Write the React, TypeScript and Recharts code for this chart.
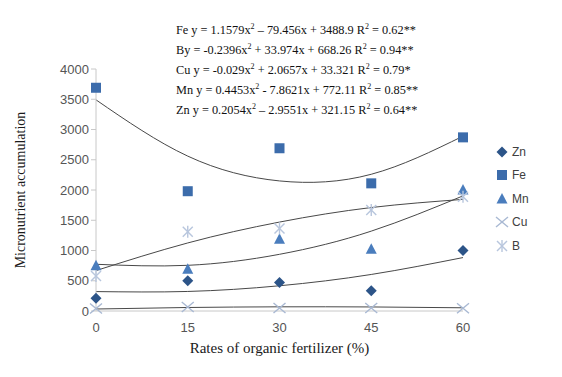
import { ComposedChart, Line, XAxis, YAxis } from "recharts";

// fertilizer rate (%) on the x axis
const rates = [0, 15, 30, 45, 60];
const yTicks = [0, 500, 1000, 1500, 2000, 2500, 3000, 3500, 4000];

// measured points
const zn = [210, 500, 470, 335, 1000];
const fe = [3690, 1980, 2690, 2110, 2870];
const mn = [750, 690, 1185, 1020, 2000];
const cu = [40, 65, 50, 50, 45];
const b = [580, 1310, 1365, 1670, 1890];

// polynomial trend lines, read at each rate
const feFit = [3490, 2560, 2150, 2260, 2890];
const bFit = [668, 1125, 1470, 1710, 1845];
const mnFit = [772, 755, 937, 1320, 1903];
const znFit = [321, 323, 417, 604, 883];
const cuFit = [33, 58, 69, 67, 53];

const equations = [
  ["Fe y = 1.1579x", " – 79.456x + 3488.9 R", " = 0.62**"],
  ["By = -0.2396x", " + 33.974x + 668.26 R", " = 0.94**"],
  ["Cu y = -0.029x", " + 2.0657x + 33.321 R", " = 0.79*"],
  ["Mn y = 0.4453x", " - 7.8621x + 772.11 R", " = 0.85**"],
  ["Zn y = 0.2054x", " – 2.9551x + 321.15 R", " = 0.64**"],
];

const data = rates.map((r, i) => ({
  rate: r,
  Zn: zn[i],
  Fe: fe[i],
  Mn: mn[i],
  Cu: cu[i],
  B: b[i],
  feFit: feFit[i],
  bFit: bFit[i],
  mnFit: mnFit[i],
  znFit: znFit[i],
  cuFit: cuFit[i],
}));

const COLORS = {
  Zn: "#2c5488",
  Fe: "#3c6cab",
  Mn: "#4a7dbd",
  Cu: "#a9b9d3",
  B: "#b8c6dd",
};

const Marker = ({ kind, cx, cy }: { kind: string; cx: number; cy: number }) => {
  const c = (COLORS as any)[kind];
  if (cx == null || cy == null) return null;
  if (kind === "Zn")
    return <polygon points={`${cx},${cy - 5.5} ${cx + 5.5},${cy} ${cx},${cy + 5.5} ${cx - 5.5},${cy}`} fill={c} />;
  if (kind === "Fe") return <rect x={cx - 5} y={cy - 5} width={10} height={10} fill={c} />;
  if (kind === "Mn")
    return <polygon points={`${cx},${cy - 6} ${cx + 5.5},${cy + 4.5} ${cx - 5.5},${cy + 4.5}`} fill={c} />;
  if (kind === "Cu")
    return (
      <g stroke={c} strokeWidth={1.4}>
        <line x1={cx - 6} y1={cy - 5} x2={cx + 6} y2={cy + 5} />
        <line x1={cx - 6} y1={cy + 5} x2={cx + 6} y2={cy - 5} />
      </g>
    );
  return (
    <g stroke={c} strokeWidth={1.4}>
      <line x1={cx - 5} y1={cy - 5} x2={cx + 5} y2={cy + 5} />
      <line x1={cx - 5} y1={cy + 5} x2={cx + 5} y2={cy - 5} />
      <line x1={cx} y1={cy - 6} x2={cx} y2={cy + 6} />
    </g>
  );
};

const legendItems = ["Zn", "Fe", "Mn", "Cu", "B"];

const supStyle = { fontSize: 8, position: "relative" as const, top: -5 };

export default function App() {
  return (
    <div style={{ position: "absolute", left: 0, top: 0, width: 562, height: 377, background: "#fff" }}>
      <ComposedChart
        width={562}
        height={377}
        data={data}
        margin={{ top: 69, right: 99, bottom: 36, left: 36 }}
      >
        <XAxis
          dataKey="rate"
          type="number"
          domain={[0, 60]}
          ticks={rates}
          height={30}
          stroke="#c8c8c8"
          tickLine={false}
          tick={{ fill: "#555", fontSize: 13, fontFamily: "'Liberation Sans', Arial, sans-serif" }}
          tickMargin={6}
          label={{
            value: "Rates of organic fertilizer (%)",
            position: "bottom",
            offset: 1,
            style: { fill: "#1a1a1a", fontSize: 15, fontFamily: "'Liberation Serif', 'Times New Roman', serif" },
          }}
        />
        <YAxis
          type="number"
          domain={[0, 4000]}
          ticks={yTicks}
          width={60}
          stroke="#c8c8c8"
          tickSize={5}
          tick={{ fill: "#555", fontSize: 13, fontFamily: "'Liberation Sans', Arial, sans-serif" }}
          label={{
            value: "Micronutrient accumulation",
            angle: -90,
            position: "insideLeft",
            offset: -16,
            style: { textAnchor: "middle", fill: "#1a1a1a", fontSize: 14, fontFamily: "'Liberation Serif', 'Times New Roman', serif" },
          }}
        />
        {["feFit", "bFit", "mnFit", "znFit", "cuFit"].map((k) => (
          <Line
            key={k}
            dataKey={k}
            type="natural"
            stroke="#484848"
            strokeWidth={1}
            dot={false}
            activeDot={false}
            legendType="none"
            isAnimationActive={false}
          />
        ))}
        {legendItems.map((k) => (
          <Line
            key={k}
            dataKey={k}
            stroke="none"
            dot={(p: any) => <Marker key={`${k}-${p.index}`} kind={k} cx={p.cx} cy={p.cy} />}
            activeDot={false}
            isAnimationActive={false}
          />
        ))}
      </ComposedChart>
      {/* legend */}
      <div
        style={{
          position: "absolute",
          left: 495,
          top: 140,
          fontFamily: "'Liberation Sans', Arial, sans-serif",
          fontSize: 12,
          color: "#404040",
        }}
      >
        {legendItems.map((k) => (
          <div key={k} style={{ display: "flex", alignItems: "center", height: 23.5 }}>
            <svg width={14} height={14} style={{ marginRight: 3 }}>
              <Marker kind={k} cx={7} cy={7} />
            </svg>
            {k}
          </div>
        ))}
      </div>
      {/* regression equations */}
      <div
        style={{
          position: "absolute",
          left: 176,
          top: 20,
          fontFamily: "'Liberation Serif', 'Times New Roman', serif",
          fontSize: 12.3,
          color: "#111",
          whiteSpace: "nowrap",
        }}
      >
        {equations.map((e, i) => (
          <div key={i} style={{ height: 20, lineHeight: "20px" }}>
            {e[0]}
            <span style={supStyle}>2</span>
            {e[1]}
            <span style={supStyle}>2</span>
            {e[2]}
          </div>
        ))}
      </div>
    </div>
  );
}
